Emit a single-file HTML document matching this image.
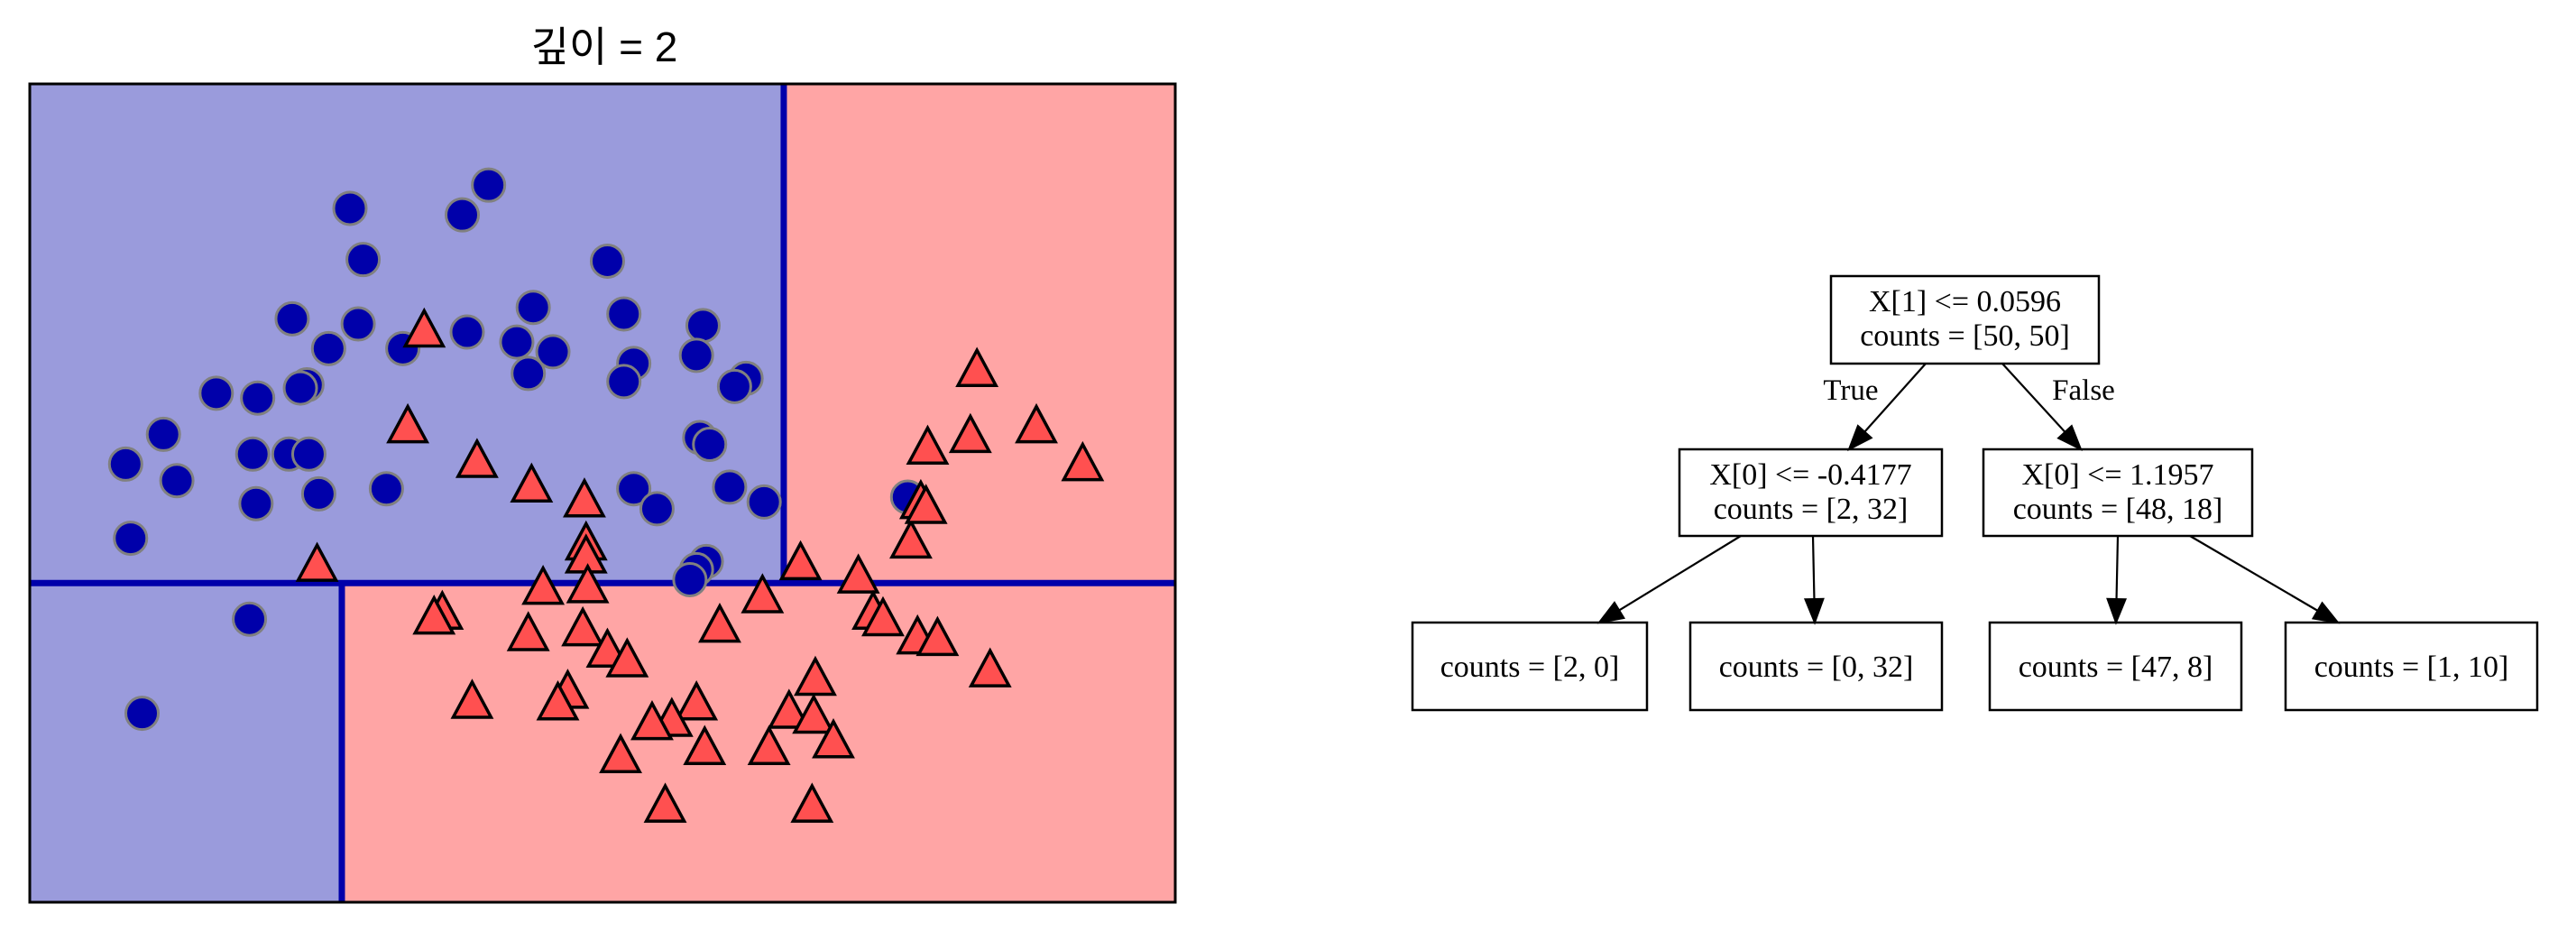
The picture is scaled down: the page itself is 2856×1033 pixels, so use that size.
<!DOCTYPE html>
<html><head><meta charset="utf-8"><style>
html,body{margin:0;padding:0;background:#fff;width:2856px;height:1033px;overflow:hidden}
svg{display:block}
</style></head><body>
<svg id="chart" width="2856" height="1033" viewBox="0 0 2856 1033" xmlns="http://www.w3.org/2000/svg">
<text x="670" y="68" text-anchor="middle" font-family="'Liberation Sans','Noto Sans CJK KR',sans-serif" font-size="46" fill="#000">깊이 = 2</text>
<g id="plot"></g>
<g id="tree"></g>
</svg>
<script>
// data
const circleX=[-0.388,0.118,0.022,-0.340,0.552,-0.599,-0.358,-0.195,-0.466,0.040,0.281,0.221,0.353,0.612,0.901,0.877,0.263,0.648,0.612,1.058,1.016,-0.876,-0.725,-0.545,-0.569,-1.069,-1.207,-1.020,-0.743,-0.611,-0.538,-0.731,-0.502,-0.255,0.889,0.925,0.998,1.124,0.648,0.733,-1.189,1.648,0.913,0.877,0.853,-0.755,-1.147];
const circleY=[1.444,1.530,1.420,1.255,1.249,1.036,1.017,0.926,0.926,0.987,1.078,0.950,0.914,1.054,1.011,0.901,0.834,0.871,0.804,0.816,0.786,0.761,0.743,0.792,0.780,0.609,0.499,0.438,0.536,0.536,0.536,0.353,0.389,0.408,0.597,0.572,0.414,0.359,0.408,0.334,0.225,0.377,0.139,0.109,0.072,-0.074,-0.422];
const triX=[-0.117,-0.177,0.076,0.275,0.468,0.474,0.474,0.480,-0.508,0.317,-0.051,-0.081,0.263,0.462,0.552,0.624,0.962,1.118,1.257,1.468,1.522,1.558,1.684,1.757,1.949,1.901,1.721,1.877,2.118,2.287,1.696,1.660,1.715,1.311,1.215,1.305,1.377,1.142,0.877,0.787,0.715,0.907,0.600,0.407,0.371,0.058,0.763,1.299];
const triY=[0.999,0.645,0.517,0.426,0.371,0.212,0.164,0.054,0.133,0.048,-0.044,-0.062,-0.123,-0.105,-0.184,-0.220,-0.092,0.017,0.139,0.090,-0.044,-0.068,-0.135,-0.141,-0.257,0.853,0.566,0.609,0.645,0.505,0.365,0.219,0.347,-0.288,-0.410,-0.428,-0.519,-0.544,-0.379,-0.440,-0.452,-0.544,-0.574,-0.336,-0.379,-0.373,-0.757,-0.757];
const splitY=0.0596, splitXLeft=-0.4177, splitXRight=1.1957;
const xDomain=[-1.557,2.625], yDomain=[-1.120,1.904];

const NS="http://www.w3.org/2000/svg";
const L=33,R=1303,T=93,B=1000;
function sx(v){return L+(v-xDomain[0])/(xDomain[1]-xDomain[0])*(R-L);}
function sy(v){return B-(v-yDomain[0])/(yDomain[1]-yDomain[0])*(B-T);}
function mk(tag,attrs,parent){const e=document.createElementNS(NS,tag);for(const k in attrs)e.setAttribute(k,attrs[k]);parent.appendChild(e);return e;}
const plot=document.getElementById('plot');
const xs=sx(splitXLeft),xr=sx(splitXRight),ys=sy(splitY);
let r;
r=mk('rect',{x:L,y:T,width:xr-L,height:ys-T,fill:'#9a9bdc'},plot);


r=mk('rect',{x:xr,y:T,width:R-xr,height:ys-T,fill:'#ffa5a5'},plot);


r=mk('rect',{x:L,y:ys,width:xs-L,height:B-ys,fill:'#9a9bdc'},plot);


r=mk('rect',{x:xs,y:ys,width:R-xs,height:B-ys,fill:'#ffa5a5'},plot);


let ln;
ln=mk('line',{x1:L,y1:ys,x2:R,y2:ys,stroke:'#0000aa','stroke-width':7},plot);


ln=mk('line',{x1:xr,y1:T,x2:xr,y2:ys,stroke:'#0000aa','stroke-width':7},plot);


ln=mk('line',{x1:xs,y1:ys,x2:xs,y2:B,stroke:'#0000aa','stroke-width':7},plot);


for(let i=0;i<circleX.length;i++){
  const c=mk('circle',{cx:sx(circleX[i]),cy:sy(circleY[i]),r:18,fill:'#0000aa',stroke:'#808080','stroke-width':3},plot);
  
  
}
for(let i=0;i<triX.length;i++){
  const cx=sx(triX[i]),cy=sy(triX.length?triY[i]:0);
  const p=mk('polygon',{points:`${cx},${cy-20} ${cx-21},${cy+19} ${cx+21},${cy+19}`,fill:'#ff5050',stroke:'#000','stroke-width':3.5,'stroke-linejoin':'miter'},plot);
  
  
}
r=mk('rect',{x:L,y:T,width:R-L,height:B-T,fill:'none',stroke:'#000','stroke-width':3},plot);



// tree
const tree=document.getElementById('tree');
const boxes=[
 {n:'root-node',x:2030,y:306,w:297,h:97,l:['X[1] <= 0.0596','counts = [50, 50]']},
 {n:'node-left',x:1862,y:498,w:291,h:96,l:['X[0] <= -0.4177','counts = [2, 32]']},
 {n:'node-right',x:2199,y:498,w:298,h:96,l:['X[0] <= 1.1957','counts = [48, 18]']},
 {n:'leaf-1',x:1566,y:690,w:260,h:97,l:['counts = [2, 0]']},
 {n:'leaf-2',x:1874,y:690,w:279,h:97,l:['counts = [0, 32]']},
 {n:'leaf-3',x:2206,y:690,w:279,h:97,l:['counts = [47, 8]']},
 {n:'leaf-4',x:2534,y:690,w:279,h:97,l:['counts = [1, 10]']}
];
boxes.forEach(b=>{
  const g=mk('g',{},tree);
  
  
  mk('rect',{x:b.x,y:b.y,width:b.w,height:b.h,fill:'#fff',stroke:'#000','stroke-width':2.5},g);
  const cx=b.x+b.w/2;
  const ys2=b.l.length==2?[b.y+39,b.y+77]:[b.y+60];
  b.l.forEach((t,i)=>{
    const tx=mk('text',{x:cx,y:ys2[i],'text-anchor':'middle','font-family':"'Liberation Serif',serif",'font-size':34,fill:'#000'},g);
    tx.textContent=t;
  });
});
const edges=[[2135,403,2050,498],[2220,403,2307,498],[1930,594,1773,690],[2010,594,2012,690],[2348,594,2346,690],[2428,594,2592,690]];
edges.forEach(e=>{
  const [x1,y1,x2,y2]=e;const dx=x2-x1,dy=y2-y1,len=Math.hypot(dx,dy),ux=dx/len,uy=dy/len;
  const bx=x2-ux*26,by=y2-uy*26;
  const g=mk('g',{},tree);
  
  
  mk('line',{x1:x1,y1:y1,x2:bx,y2:by,stroke:'#000','stroke-width':2.2},g);
  mk('polygon',{points:`${x2},${y2} ${bx-uy*10},${by+ux*10} ${bx+uy*10},${by-ux*10}`,fill:'#000',stroke:'#000','stroke-width':2},g);
});
let t;
t=mk('text',{x:2052,y:443,'text-anchor':'middle','font-family':"'Liberation Serif',serif",'font-size':33,fill:'#000'},tree);
t.textContent='True';


t=mk('text',{x:2310,y:443,'text-anchor':'middle','font-family':"'Liberation Serif',serif",'font-size':33,fill:'#000'},tree);
t.textContent='False';


</script>
</body></html>
